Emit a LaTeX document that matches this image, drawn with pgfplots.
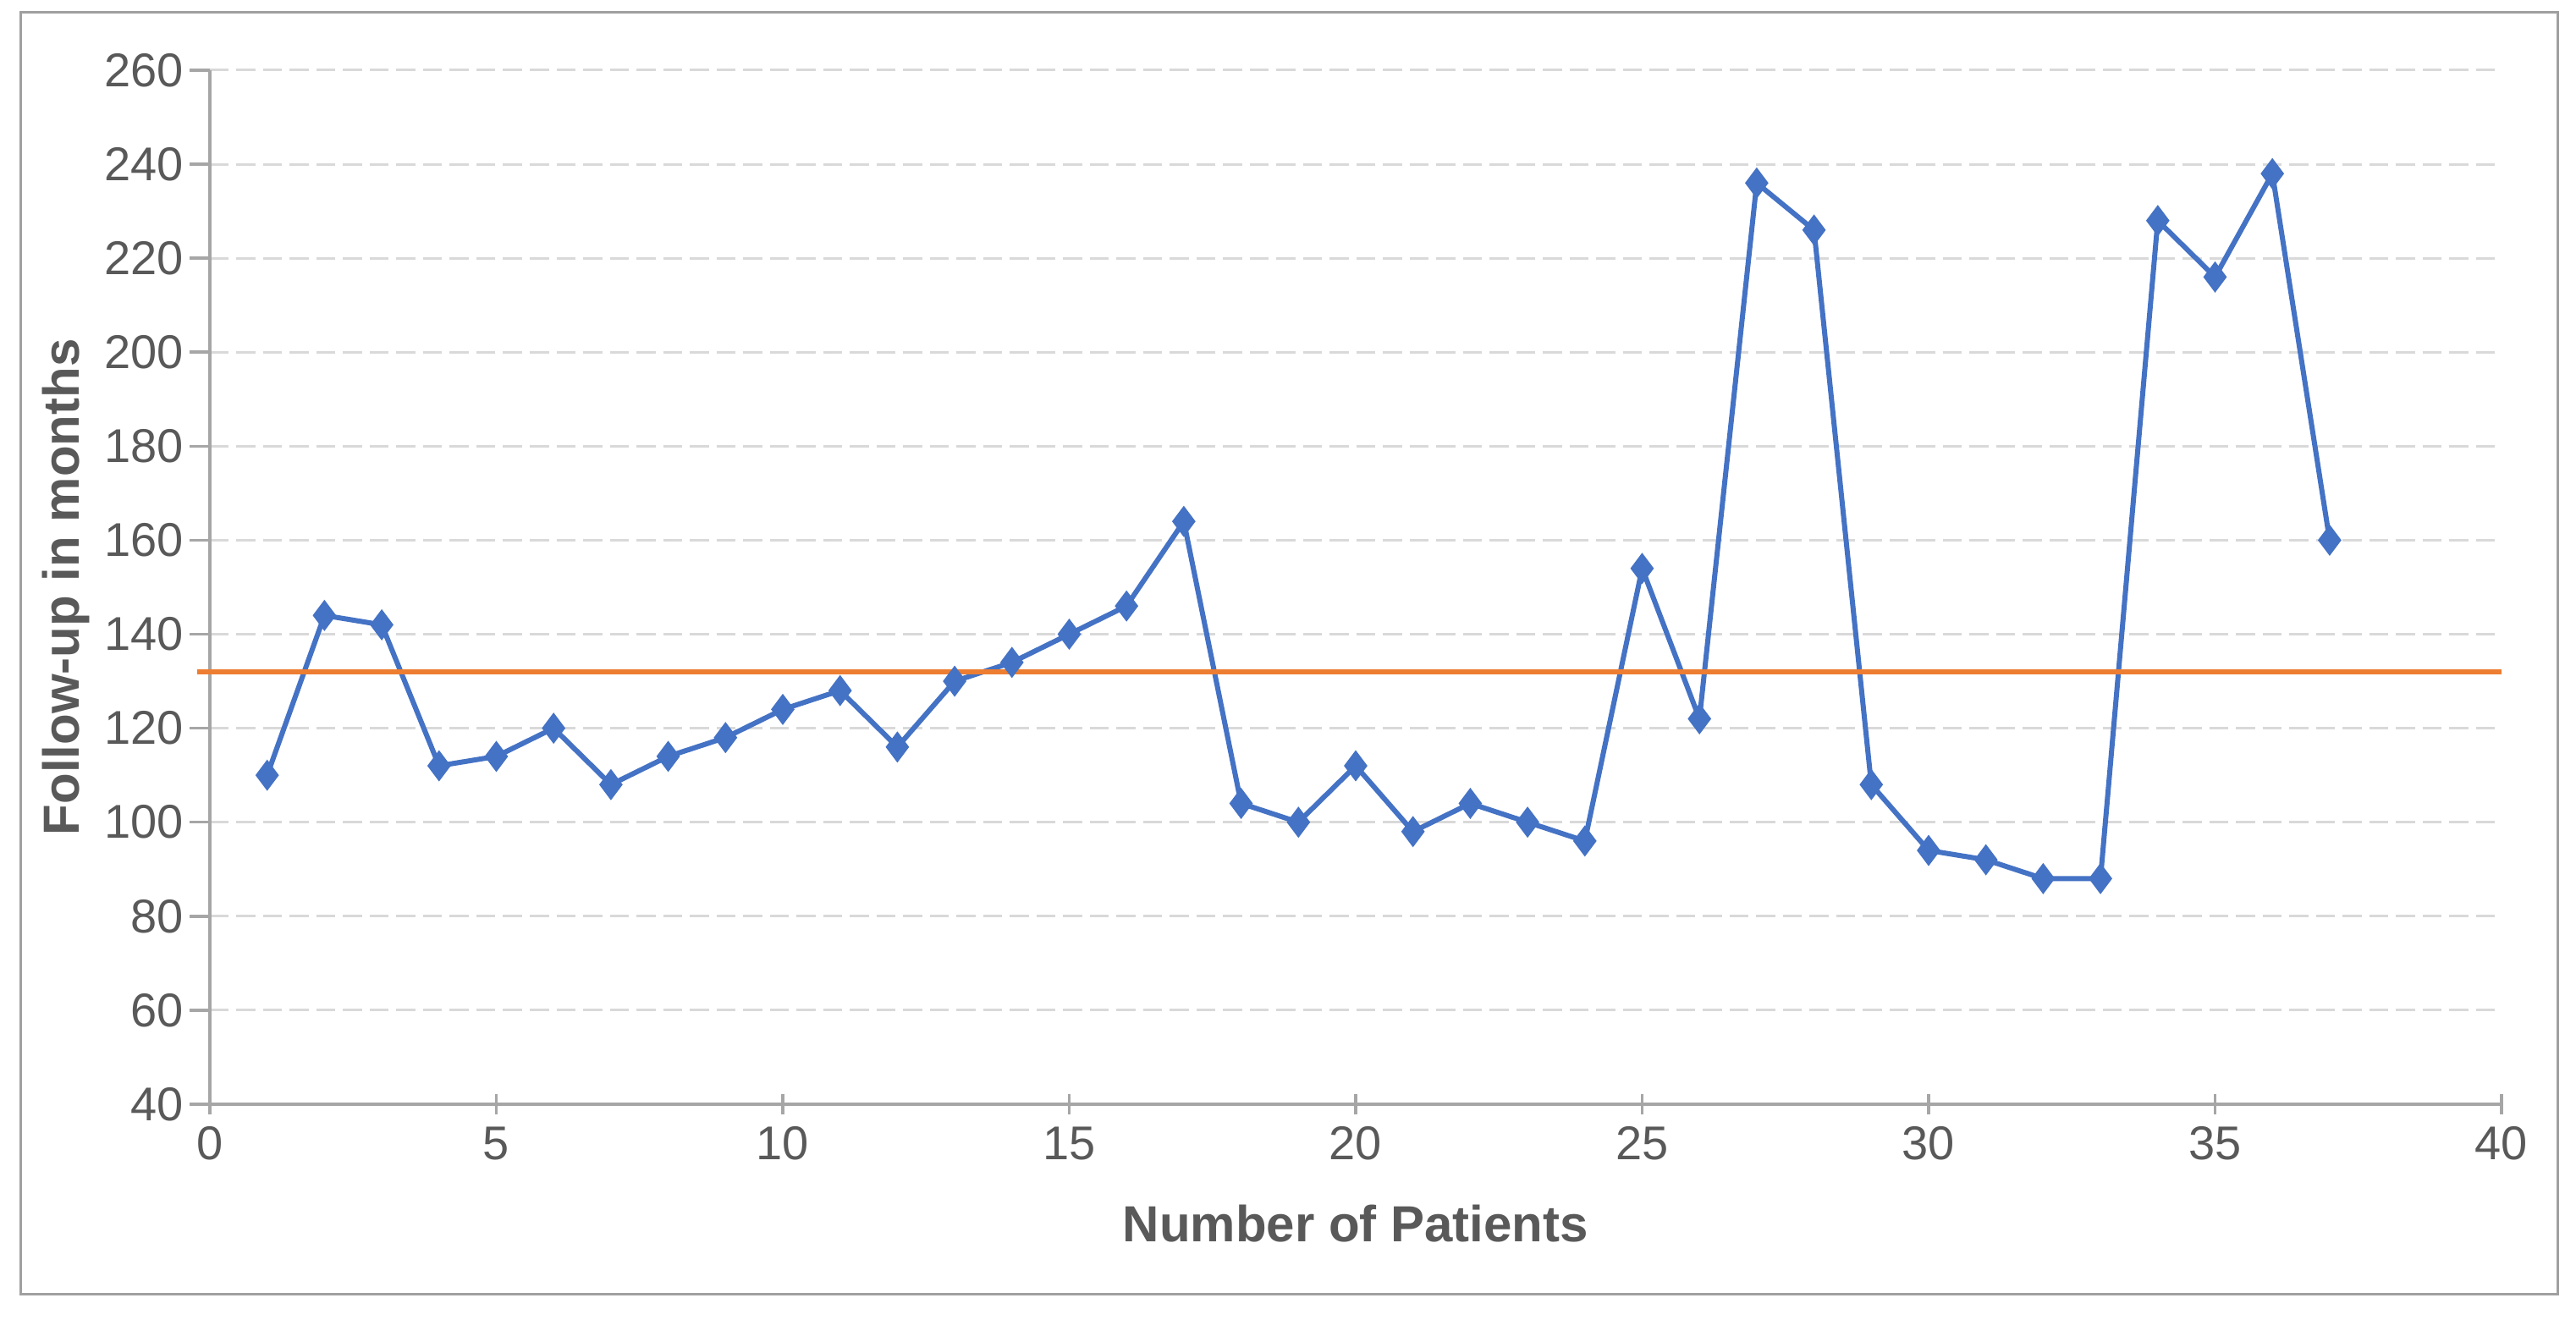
\documentclass[border=0pt]{standalone}
\usepackage{pgfplots}
\pgfplotsset{compat=1.18}
\usepackage{fontspec}
\setmainfont{Liberation Sans}
\definecolor{axisgray}{HTML}{A6A6A6}
\definecolor{gridgray}{HTML}{D9D9D9}
\definecolor{txtgray}{HTML}{595959}
\definecolor{xlblue}{HTML}{4472C4}
\definecolor{xlorange}{HTML}{ED7D31}
\definecolor{framegray}{HTML}{A0A0A0}
\begin{document}
\begin{tikzpicture}
\useasboundingbox (0,0) rectangle (608.8pt,312pt);
\draw[framegray, line width=0.6pt] (4.8pt,6pt) rectangle (604.4pt,309pt);
\begin{axis}[
  at={(49.6pt,51pt)}, anchor=south west,
  width=541.6pt, height=244.4pt, scale only axis,
  xmin=0, xmax=40, ymin=40, ymax=260,
  xtick={0,5,...,40}, ytick={40,60,...,260},
  axis lines=left,
  axis line style={-, draw=axisgray, line width=0.9pt},
  tick align=center,
  major tick length=4.8pt,
  every tick/.style={draw=axisgray, line width=0.7pt},
  y tick style={xshift=-2.4pt},
  ymajorgrids,
  major grid style={draw=gridgray, line width=0.6pt, dash pattern=on 4.5pt off 1.8pt},
  /pgf/number format/assume math mode=true,
  yticklabel style={anchor=east, inner sep=0pt, xshift=-3.6pt, font=\fontsize{11.2}{13}\selectfont, text=txtgray},
  xticklabel style={anchor=base, inner sep=0pt, yshift=-10.8pt, font=\fontsize{11.2}{13}\selectfont, text=txtgray},
  xlabel={Number of Patients},
  xlabel style={at={(axis description cs:0.5,-0.1334)}, anchor=base, inner sep=0pt, font=\bfseries\fontsize{12}{14}\selectfont, text=txtgray},
  ylabel={Follow-up in months},
  ylabel style={at={(axis description cs:-0.0570,0.5)}, anchor=base, inner sep=0pt, font=\bfseries\fontsize{12}{14}\selectfont, text=txtgray},
  clip=false,
]
\addplot[xlblue, line width=1.2pt, mark=diamond*, mark size=2.7pt, mark options={fill=xlblue, solid}] coordinates {
(1,110) (2,144) (3,142) (4,112) (5,114) (6,120) (7,108) (8,114) (9,118) (10,124)
(11,128) (12,116) (13,130) (14,134) (15,140) (16,146) (17,164) (18,104) (19,100) (20,112)
(21,98) (22,104) (23,100) (24,96) (25,154) (26,122) (27,236) (28,226) (29,108) (30,94)
(31,92) (32,88) (33,88) (34,228) (35,216) (36,238) (37,160)
};
\addplot[xlorange, line width=1.35pt] coordinates {(-0.22,132) (40,132)};
\end{axis}
\end{tikzpicture}
\end{document}
